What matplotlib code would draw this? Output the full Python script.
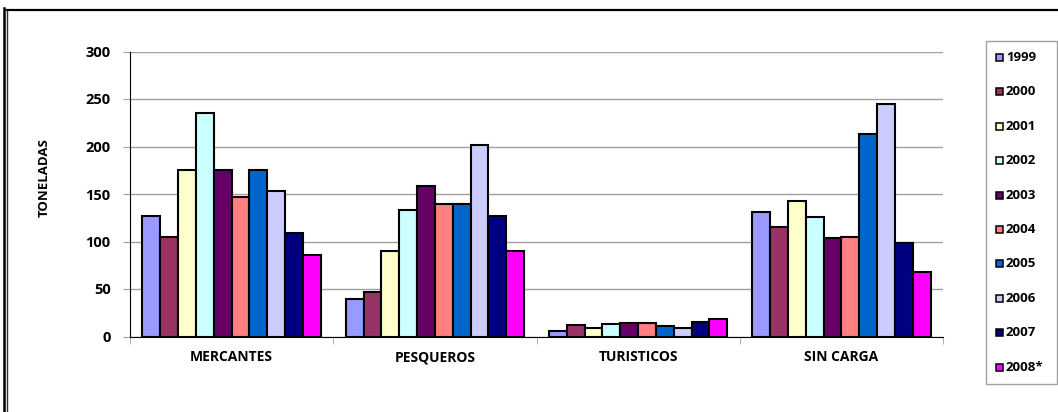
import numpy as np
import matplotlib
matplotlib.use("Agg")
import matplotlib.pyplot as plt
from matplotlib.lines import Line2D
from matplotlib.patches import Rectangle

plt.rcParams['font.family'] = ['Open Sans', 'DejaVu Sans']
plt.rcParams['font.weight'] = 'bold'

categories = ["MERCANTES", "PESQUEROS", "TURISTICOS", "SIN CARGA"]
years = ["1999", "2000", "2001", "2002", "2003", "2004", "2005", "2006", "2007", "2008*"]

# tonnage per category, one list per year
v1999 = [127, 39, 6, 131]
v2000 = [105, 47, 12, 115]
v2001 = [175, 90, 9, 143]
v2002 = [235, 133, 13, 126]
v2003 = [175, 158, 14, 104]
v2004 = [147, 140, 14, 105]
v2005 = [175, 139, 11, 213]
v2006 = [153, 202, 9, 245]
v2007 = [109, 127, 15, 98]
v2008 = [86, 90, 18, 68]
series = [v1999, v2000, v2001, v2002, v2003, v2004, v2005, v2006, v2007, v2008]

colors = ["#9999FF", "#993366", "#FFFFCC", "#CCFFFF", "#660066",
          "#FF8080", "#0066CC", "#CCCCFF", "#000080", "#FF00FF"]

W, H = 1058, 412
fig = plt.figure(figsize=(W / 100, H / 100), dpi=100)

ax = fig.add_axes([130 / W, 1 - 336.5 / H, (943 - 130) / W, (336.5 - 51.5) / H])

n = len(series)
x = np.arange(len(categories))
group = 0.877
bw = group / n
for i, (vals, c) in enumerate(zip(series, colors)):
    ax.bar(x - group / 2 + bw * (i + 0.5), vals, width=bw, color=c,
           edgecolor="black", linewidth=1.5, zorder=3)

ax.set_xlim(-0.5, len(categories) - 0.5)
ax.set_ylim(0, 300)
ax.set_yticks(np.arange(0, 301, 50))
ax.yaxis.grid(True, color="#A0A0A0", linewidth=1.0, zorder=0)
ax.set_axisbelow(True)

ax.set_xticks(x)
ax.set_xticklabels(categories, fontsize=10, fontweight="bold")
ax.set_xticks(np.arange(-0.5, len(categories), 1.0), minor=True)
ax.tick_params(axis="x", which="major", length=0, pad=10)
ax.tick_params(axis="x", which="minor", length=5, color="#A0A0A0", direction="out")
ax.tick_params(axis="y", length=5, color="#A0A0A0", labelsize=10.5, pad=9)
for lab in ax.get_yticklabels():
    lab.set_fontweight("bold")

for s in ["top", "right"]:
    ax.spines[s].set_visible(False)
ax.spines["left"].set_color("black")
ax.spines["bottom"].set_color("black")

fig.text(44 / W, 1 - 178 / H, "TONELADAS", rotation=90, ha="center", va="center",
         fontsize=9.5, fontweight="bold")

# legend box with one swatch per year
lx0, lx1, ly0, ly1 = 985.5, 1056.5, 40.7, 384.0
fig.add_artist(Rectangle((lx0 / W, 1 - ly1 / H), (lx1 - lx0) / W, (ly1 - ly0) / H,
                         transform=fig.transFigure, facecolor="white",
                         edgecolor="#A0A0A0", linewidth=1.0))
row0, step = 57.5, 34.4
for i, (c, yr) in enumerate(zip(colors, years)):
    yc = row0 + i * step
    fig.add_artist(Rectangle((995.5 / W, 1 - (yc + 3.5) / H), 7 / W, 7 / H,
                             transform=fig.transFigure, facecolor=c,
                             edgecolor="black", linewidth=1.1))
    fig.text(1006 / W, 1 - yc / H, yr, ha="left", va="center",
             fontsize=9.5, fontweight="bold")

# outer frame: double line on the left, single line on top
fig.add_artist(Line2D([4 / W, 4 / W], [0, 1 - 8 / H], transform=fig.transFigure,
                      color="black", linewidth=1.8))
fig.add_artist(Line2D([7.3 / W, 7.3 / W], [0, 1 - 10 / H], transform=fig.transFigure,
                      color="#303030", linewidth=1.0))
fig.add_artist(Line2D([6.8 / W, 1], [1 - 10 / H, 1 - 10 / H], transform=fig.transFigure,
                      color="black", linewidth=1.6))

fig.savefig("out.png", dpi=100)
